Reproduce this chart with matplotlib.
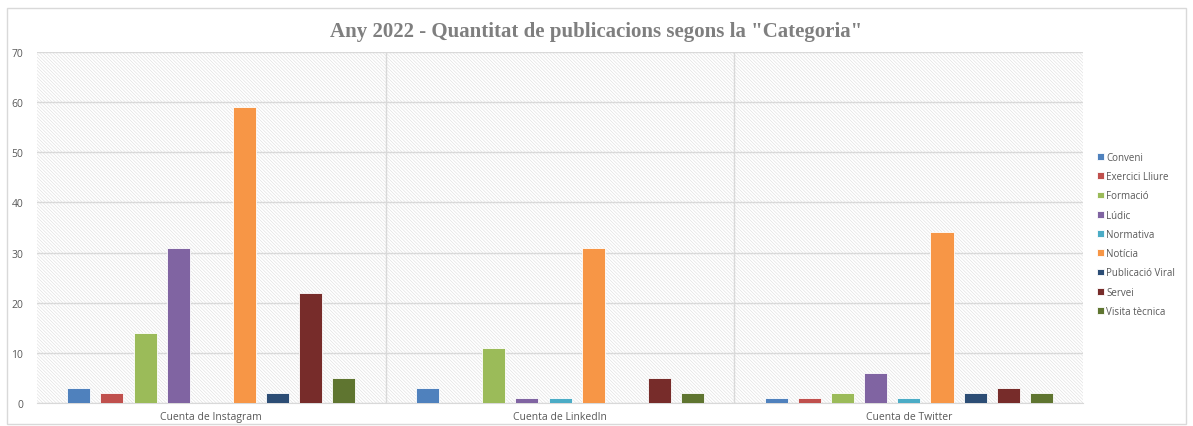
import matplotlib
matplotlib.use("Agg")
import matplotlib.pyplot as plt
import numpy as np
from matplotlib.patches import Rectangle

accounts = ["Cuenta de Instagram", "Cuenta de LinkedIn", "Cuenta de Twitter"]
categories = ["Conveni", "Exercici Lliure", "Formació", "Lúdic", "Normativa",
              "Notícia", "Publicació Viral", "Servei", "Visita tècnica"]
conveni = [3, 3, 1]
exercici_lliure = [2, 0, 1]
formacio = [14, 11, 2]
ludic = [31, 1, 6]
normativa = [0, 1, 1]
noticia = [59, 31, 34]
publicacio_viral = [2, 0, 2]
servei = [22, 5, 3]
visita_tecnica = [5, 2, 2]
series = [conveni, exercici_lliure, formacio, ludic, normativa,
          noticia, publicacio_viral, servei, visita_tecnica]
colors = ["#4f81bd", "#c0504d", "#9bbb59", "#8064a2", "#4bacc6",
          "#f79646", "#2c4d75", "#772c2a", "#5f7530"]

plt.rcParams["hatch.linewidth"] = 0.4

fig = plt.figure(figsize=(11.93, 4.27), dpi=100, facecolor="white")
fig.patches.append(Rectangle((0.006, 0.005), 0.988, 0.975, transform=fig.transFigure,
                             fill=False, edgecolor="#d9d9d9", linewidth=1.0))
ax = fig.add_axes([0.031, 0.054, 0.877, 0.822])
ax.set_facecolor("white")

# hatched plot background
bg = Rectangle((0, 0), 1, 1, transform=ax.transAxes, facecolor="white",
               edgecolor="#dedede", hatch="\\" * 10, linewidth=0, zorder=0)
ax.add_patch(bg)

x = np.arange(len(accounts))
step = 0.095
width = 0.066
for i, (vals, name, c) in enumerate(zip(series, categories, colors)):
    off = (i - 4) * step
    ax.bar(x + off, vals, width=width, color=c, label=name, zorder=3,
           edgecolor="white", linewidth=0.6)

ax.set_xlim(-0.5, 2.5)
ax.set_ylim(0, 70)
ax.set_yticks(range(0, 71, 10))
ax.yaxis.grid(True, color="#d9d9d9", linewidth=1.0, zorder=1)
ax.set_axisbelow(True)
for b in [0.5, 1.5]:
    ax.axvline(b, color="#d9d9d9", linewidth=1.0, zorder=1)
ax.set_xticks(x)
ax.set_xticklabels(accounts, fontsize=7.5, color="#595959", family="Open Sans")
ax.tick_params(axis="both", length=0, pad=6)
ax.tick_params(axis="y", labelsize=7.5, labelcolor="#595959", pad=10)
for lbl in ax.get_yticklabels():
    lbl.set_family("Open Sans")
for s in ["top", "right", "left"]:
    ax.spines[s].set_visible(False)
ax.spines["bottom"].set_color("#d9d9d9")

fig.text(0.5, 0.925, 'Any 2022 - Quantitat de publicacions segons la "Categoria"',
         ha="center", va="center", fontsize=15, fontweight="bold",
         family="Liberation Serif", color="#7f7f7f")

leg = ax.legend(loc="center left", bbox_to_anchor=(1.005, 0.48), frameon=False,
                handlelength=0.7, handleheight=0.7, handletextpad=0.2,
                labelspacing=0.85, prop={"family": "Open Sans", "size": 7})
for t in leg.get_texts():
    t.set_color("#595959")

fig.savefig("out.png", dpi=100, facecolor="white")
